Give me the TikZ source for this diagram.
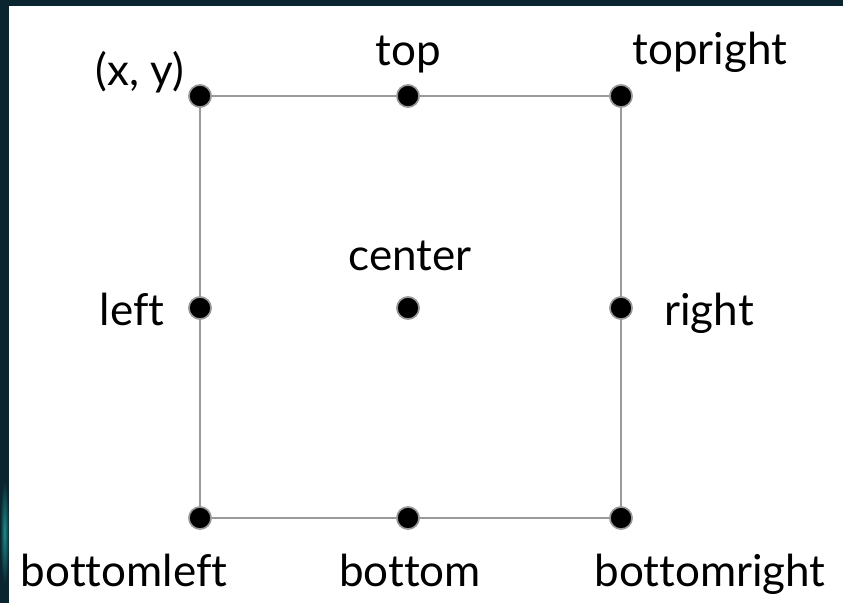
\documentclass[tikz,border=0pt]{standalone}
\usepackage{fontspec}
\setmainfont[Ligatures=NoCommon]{Lato}
\definecolor{bgdark}{HTML}{0A2430}
\definecolor{glow}{HTML}{1E8C86}
\definecolor{edgegray}{HTML}{9A9A9A}
\begin{document}
\begin{tikzpicture}[x=1pt,y=-1pt,
  dot/.style={circle,fill=black,draw=edgegray,line width=1.5pt,minimum size=22pt,inner sep=0pt},
  edge/.style={draw=edgegray,line width=2pt},
  lbl/.style={font=\fontsize{44}{52}\selectfont,inner sep=0pt,anchor=base}]
\useasboundingbox (0,0) rectangle (843,603);
\fill[bgdark] (0,0) rectangle (843,603);
\shade[inner color=glow, outer color=bgdark] (0,480) rectangle (9,585);
\fill[white] (9,6) rectangle (843,603);
% dots
\node[dot] (tl) at (200,96) {};
\node[dot] (t) at (408,96) {};
\node[dot] (tr) at (621,96) {};
\node[dot] (l) at (200,308) {};
\node[dot] (c) at (408,308) {};
\node[dot] (r) at (621,308) {};
\node[dot] (bl) at (200,518) {};
\node[dot] (b) at (408,518) {};
\node[dot] (br) at (621,518) {};
\path[edge] (tl.center) -- (t.center) -- (tr.center) -- (r.center) -- (br.center) -- (b.center) -- (bl.center) -- (l.center) -- cycle;
% redraw dots on top
\foreach \n in {tl,t,tr,l,c,r,bl,b,br}{\node[dot] at (\n) {};}
% labels
\node[lbl] (ltl) at (140,85) {(x, y)};
\node[lbl] (lt) at (408,65) {top};
\node[lbl] (ltr) at (710,64) {topright};
\node[lbl] (lc) at (410,270) {center};
\node[lbl] (ll) at (132,325) {left};
\node[lbl] (lr) at (709,325) {right};
\node[lbl] (lbl) at (124,586) {bottomleft};
\node[lbl] (lb) at (410,586) {bottom};
\node[lbl] (lbr) at (710,586) {bottomright};
\end{tikzpicture}
\end{document}
